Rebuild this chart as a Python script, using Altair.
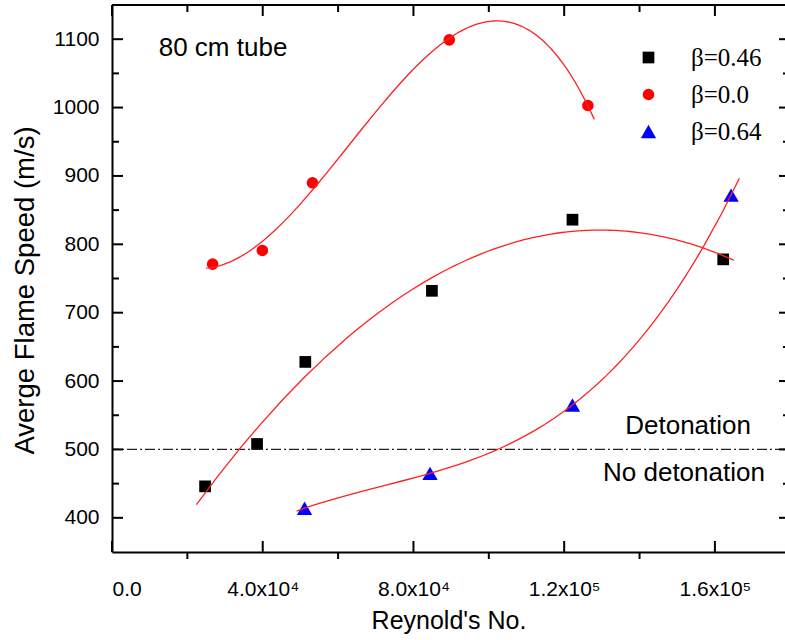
import altair as alt
import pandas as pd

# Reynolds number vs. average flame speed for three blockage ratios (80 cm tube)
re_046 = [24700, 38500, 51300, 84900, 122200, 162200]
v_046 = [446, 508, 628, 732, 836, 778]
re_000 = [26700, 39900, 53200, 89500, 126300]
v_000 = [771, 791, 890, 1099, 1003]
re_064 = [51100, 84400, 122200, 164300]
v_064 = [414, 465, 565, 872]

series_names = ["β=0.46", "β=0.0", "β=0.64"]
series_colors = ["#000000", "#ff0000", "#0000ff"]
series_shapes = ["square", "circle", "triangle-up"]
series_sizes = [137, 135, 235]

# polynomial fit per series: order and x-range of the drawn curve
fit_orders = [2, 3, 3]
fit_extents = [[22400, 165000], [25000, 128000], [49000, 166500]]

x_major = [0, 40000, 80000, 120000, 160000]
x_major_labels = ["0.0", "4.0x10⁴", "8.0x10⁴", "1.2x10⁵", "1.6x10⁵"]
x_minor = [20000, 60000, 100000, 140000]
y_major = [400, 500, 600, 700, 800, 900, 1000, 1100]
y_minor = [450, 550, 650, 750, 850, 950, 1050]

threshold = [500]
notes = ["80 cm tube", "Detonation", "No detonation"]
note_x = [12400, 136200, 130300]
note_y = [1075, 522, 454]

W, H = 673, 547
SANS = "Liberation Sans"

points = pd.DataFrame({
    "re": re_046 + re_000 + re_064,
    "v": v_046 + v_000 + v_064,
    "series": [series_names[0]] * len(re_046)
    + [series_names[1]] * len(re_000)
    + [series_names[2]] * len(re_064),
})

xscale = alt.Scale(domain=[0, 178600], nice=False, zero=False)
yscale = alt.Scale(domain=[350, 1150], nice=False, zero=False)

label_expr = " : ".join(
    f"datum.value == {v} ? '{s}'" for v, s in zip(x_major, x_major_labels)
) + " : ''"

x_axis = alt.Axis(
    values=x_major, labelExpr=label_expr, ticks=False, grid=False,
    labelBaseline="alphabetic", labelPadding=43,
    title="Reynold's No.", titleBaseline="alphabetic", titleY=76, titleFontSize=25,
)
y_axis = alt.Axis(
    values=y_major, format="d", ticks=False, grid=False, labelPadding=13,
    title="Averge Flame Speed (m/s)", titleBaseline="alphabetic", titleFontSize=27.5,
    titleX=-79, titleY=285, titleAngle=270, titleAlign="center",
)


def X(field="re"):
    return alt.X(f"{field}:Q", scale=xscale, axis=x_axis)


def Y(field="v"):
    return alt.Y(f"{field}:Q", scale=yscale, axis=y_axis)


# legend symbols: the triangle gets a larger area so all three look alike in size
legend_size = "datum.value == '" + series_names[2] + "' ? 225 : 137"

marks = alt.Chart(points).mark_point(filled=True, opacity=1, strokeWidth=0).encode(
    x=X(),
    y=Y(),
    color=alt.Color(
        "series:N",
        scale=alt.Scale(domain=series_names, range=series_colors),
        legend=alt.Legend(
            title=None, orient="none", legendX=524, legendY=40,
            labelFont="Liberation Serif", labelFontSize=25, labelColor="black",
            symbolSize={"expr": legend_size}, symbolStrokeWidth=0,
            rowPadding=11, labelOffset=30,
        ),
    ),
    shape=alt.Shape("series:N", scale=alt.Scale(domain=series_names, range=series_shapes)),
    size=alt.Size(
        "series:N",
        scale=alt.Scale(type="ordinal", domain=series_names, range=series_sizes),
        legend=None,
    ),
)

fits = []
for name, order, ext in zip(series_names, fit_orders, fit_extents):
    fits.append(
        alt.Chart(points)
        .transform_filter(alt.datum.series == name)
        .transform_regression("re", "v", method="poly", order=order, extent=ext)
        .mark_line(color="#ff2020", strokeWidth=1.3)
        .encode(x=X(), y=Y())
    )

limit = alt.Chart(pd.DataFrame({"v": threshold})).mark_rule(
    color="#222222", strokeWidth=1.3, strokeDash=[10, 3, 2, 3]
).encode(y=Y())

text = alt.Chart(pd.DataFrame({"t": notes, "re": note_x, "v": note_y})).mark_text(
    align="left", baseline="alphabetic", font=SANS, fontSize=26, color="black"
).encode(x=X(), y=Y(), text="t:N")


# inward / outward tick marks on all four sides of the frame
def xticks(vals, y0, y1):
    return alt.Chart(pd.DataFrame({"re": vals})).mark_rule(color="black", strokeWidth=2).encode(
        x=X(), y=alt.value(y0), y2=alt.value(y1)
    )


def yticks(vals, x0, x1):
    return alt.Chart(pd.DataFrame({"v": vals})).mark_rule(color="black", strokeWidth=2).encode(
        y=Y(), x=alt.value(x0), x2=alt.value(x1)
    )


ticks = [
    xticks(x_major, H, H - 11),
    xticks(x_major, 0, 11),
    xticks(x_minor, H, H + 7),
    xticks(x_minor, 0, 7),
    yticks(y_major, 0, 11),
    yticks(y_minor, 0, 7),
    yticks(y_major, W + 5, W - 6),
    yticks(y_minor, W + 5, W - 2),
]

top_edge = alt.Chart(pd.DataFrame({"v": [1150]})).mark_rule(color="black", strokeWidth=2).encode(y=Y())

chart = alt.layer(marks, limit, top_edge, *ticks, *fits, text).properties(
    width=W, height=H,
    autosize=alt.AutoSizeParams(type="none"),
    padding={"left": 112, "top": 5, "right": 0, "bottom": 88},
).configure(
    background="white",
    view=alt.ViewConfig(stroke=None),
    axis=alt.AxisConfig(
        domainColor="black", domainWidth=2, tickSize=0,
        labelFont=SANS, labelFontSize=21, labelColor="black",
        titleFont=SANS, titleFontWeight="normal", titleColor="black",
    ),
)

chart.save("out.html", embed_options={"renderer": "svg", "actions": False})
